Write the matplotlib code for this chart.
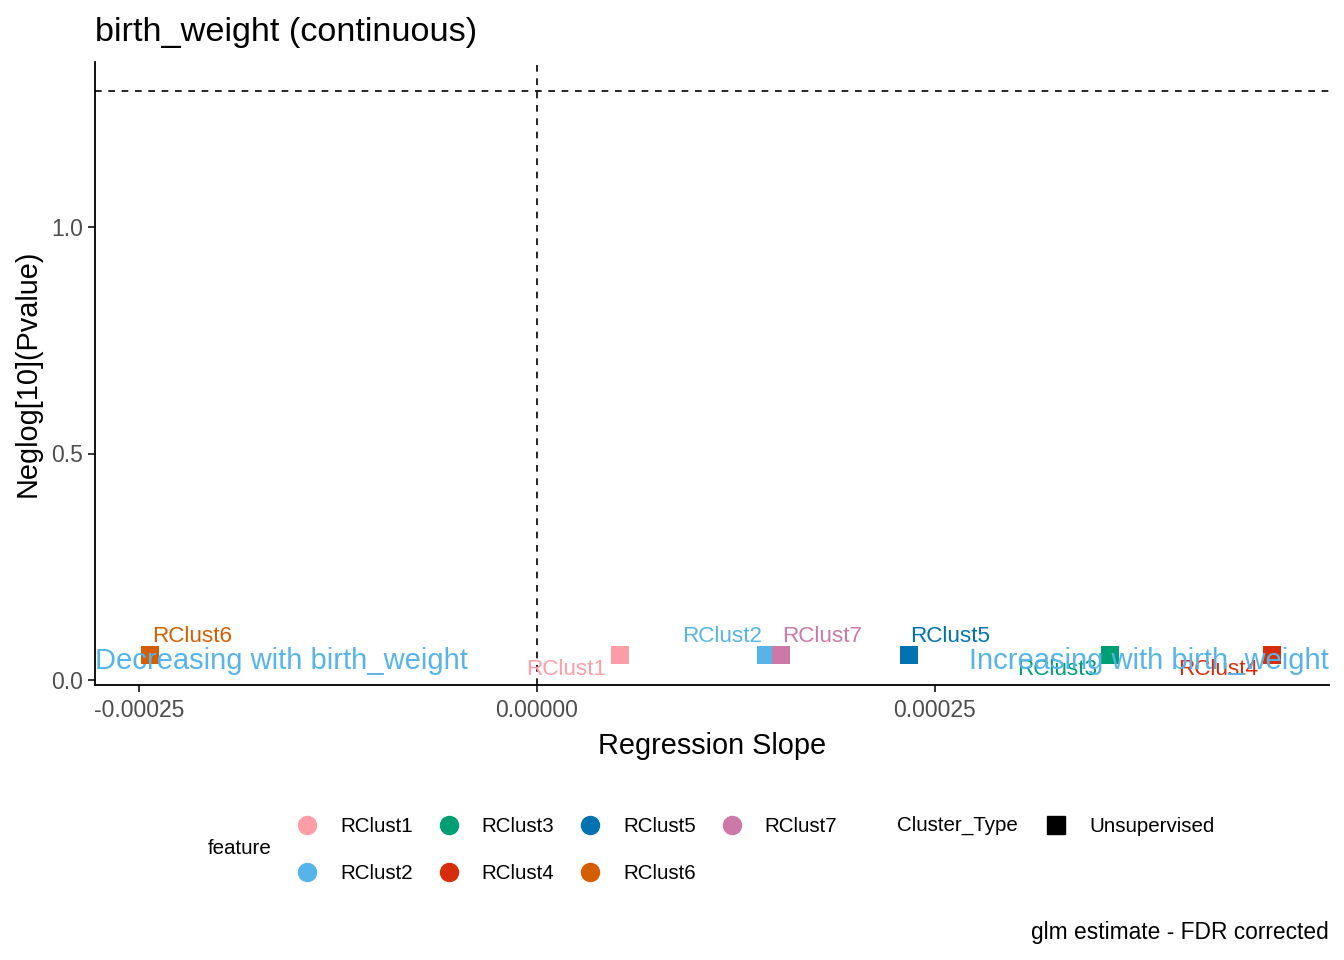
import matplotlib.pyplot as plt
from matplotlib.lines import Line2D

# data
features = ['RClust1', 'RClust2', 'RClust3', 'RClust4', 'RClust5', 'RClust6', 'RClust7']
slopes = [0.0000521, 0.0001438, 0.0003599, 0.0004617, 0.0002337, -0.000243, 0.0001533]
neglog_p = [0.055, 0.055, 0.055, 0.055, 0.055, 0.055, 0.055]
colors = ['#FF9DA7', '#56B4E9', '#009E73', '#D62D0B', '#0072B2', '#D55E00', '#CC79A7']
x_ticks = [-0.00025, 0.0, 0.00025]
y_ticks = [0.0, 0.5, 1.0]

# label offsets (pixels) similar to ggrepel output
label_offsets = {
    'RClust1': (-54, -14), 'RClust2': (-44, 19), 'RClust3': (-53, -14),
    'RClust4': (-54, -14), 'RClust5': (41, 19), 'RClust6': (42, 19),
    'RClust7': (41, 19),
}

plt.rcParams['font.family'] = ['Liberation Sans', 'DejaVu Sans']
W, H = 1344, 960
fig = plt.figure(figsize=(W / 100, H / 100), dpi=100)
ax = fig.add_axes([95 / W, 1 - 685 / H, (1329 - 95) / W, (685 - 62) / H])

x_lo = (95 - 537) / 398 * 0.00025
x_hi = (1329 - 537) / 398 * 0.00025
y_lo = -(685 - 680) / 453
y_hi = (680 - 62) / 453
ax.set_xlim(x_lo, x_hi)
ax.set_ylim(y_lo, y_hi)

ax.axvline(0, color='black', ls=(0, (4, 4)), lw=1.2, zorder=1)
ax.axhline(1.30103, color='black', ls=(0, (4, 4)), lw=1.2, zorder=1)

ax.text(x_lo, 0.042, 'Decreasing with birth_weight', color='#56B4E9', fontsize=21,
        ha='left', va='center', zorder=5)
ax.text(x_hi, 0.042, 'Increasing with birth_weight', color='#56B4E9', fontsize=21,
        ha='right', va='center', zorder=5)

for f, x, y, c in zip(features, slopes, neglog_p, colors):
    ax.scatter(x, y, marker='s', s=150, color=c, zorder=3, linewidths=0)
    ax.annotate(f, (x, y), xytext=label_offsets[f], textcoords='offset pixels',
                color=c, fontsize=16.2, ha='center', va='center', zorder=4)

ax.set_xticks(x_ticks)
ax.set_xticklabels([f'{v:.5f}' for v in x_ticks])
ax.set_yticks(y_ticks)
ax.set_yticklabels([f'{v:.1f}' for v in y_ticks])
ax.tick_params(labelsize=16.5, labelcolor='#4D4D4D', length=5, width=1.1, direction='out')
ax.tick_params(axis='x', pad=5)
ax.spines['top'].set_visible(False)
ax.spines['right'].set_visible(False)
ax.spines['left'].set_linewidth(1.3)
ax.spines['bottom'].set_linewidth(1.3)

ax.set_xlabel('Regression Slope', fontsize=20.8, labelpad=7)
fig.text(28 / W, 1 - 373 / H, 'Neglog[10](Pvalue)', rotation=90, fontsize=20.8,
         ha='center', va='center')
fig.text(95 / W, 1 - 32 / H, 'birth_weight (continuous)', fontsize=24.7,
         ha='left', va='center')
fig.text(1329 / W, 1 - 933 / H, 'glm estimate - FDR corrected', fontsize=16.4,
         ha='right', va='center')

# legends
handles = [Line2D([], [], marker='o', ls='', markersize=13, color=c) for c in colors]
leg1 = fig.legend(handles, features, ncol=4, loc='upper left', frameon=False,
                  fontsize=14.8, bbox_to_anchor=(297 / W, 1 - 817 / H),
                  handlelength=1.0, handletextpad=1.1, columnspacing=1.25,
                  labelspacing=1.35, borderaxespad=0, borderpad=0)
fig.text(208 / W, 1 - 849 / H, 'feature', fontsize=14.8, ha='left', va='center')
fig.text(897 / W, 1 - 825 / H, 'Cluster_Type', fontsize=14.8, ha='left', va='center')
leg2 = fig.legend([Line2D([], [], marker='s', ls='', markersize=13, color='black')],
                  ['Unsupervised'], loc='upper left', frameon=False, fontsize=14.8,
                  bbox_to_anchor=(1046 / W, 1 - 817 / H), handlelength=1.0,
                  handletextpad=1.1, borderaxespad=0, borderpad=0)

fig.savefig('out.png', dpi=100)
